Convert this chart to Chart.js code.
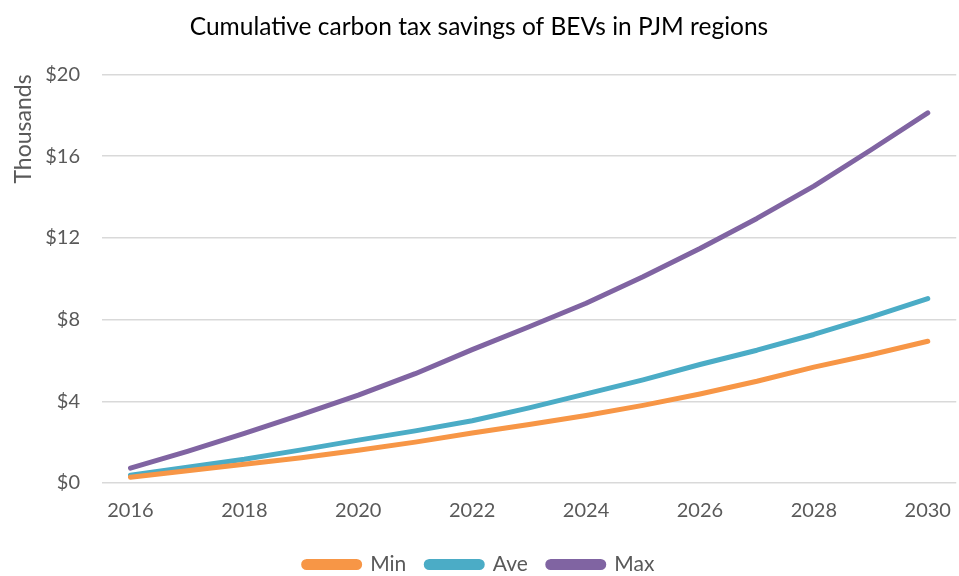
<!DOCTYPE html>
<html>
<head>
<meta charset="utf-8">
<script src="https://cdn.jsdelivr.net/npm/chart.js@4"></script>
<style>
  html, body { margin: 0; padding: 0; background: #fff; }
  #wrap { width: 959px; height: 576px; }
</style>
</head>
<body>
<div id="wrap"><canvas id="chart" width="959" height="576"></canvas></div>
<script>
// values in thousands of dollars
var years = ['2016', '2017', '2018', '2019', '2020', '2021', '2022', '2023',
             '2024', '2025', '2026', '2027', '2028', '2029', '2030'];
var minVals = [0.28, 0.60, 0.92, 1.24, 1.60, 2.00, 2.45, 2.86, 3.30, 3.80, 4.36, 4.98, 5.67, 6.28, 6.94];
var aveVals = [0.38, 0.77, 1.16, 1.62, 2.10, 2.55, 3.05, 3.68, 4.36, 5.05, 5.80, 6.50, 7.27, 8.12, 9.03];
var maxVals = [0.73, 1.55, 2.43, 3.35, 4.30, 5.35, 6.53, 7.65, 8.80, 10.10, 11.48, 12.95, 14.53, 16.30, 18.12];
var yTicks = [0, 4, 8, 12, 16, 20];

var grey = '#595959';
var font = "Lato, 'Open Sans', sans-serif";

function line(label, data, color) {
    return {
        label: label,
        data: data,
        borderColor: color,
        backgroundColor: color,
        borderWidth: 5,
        borderCapStyle: 'round',
        borderJoinStyle: 'round',
        pointRadius: 0,
        tension: 0
    };
}

new Chart(document.getElementById('chart'), {
    type: 'line',
    data: {
        labels: years,
        datasets: [
            line('Min', minVals, '#f79646'),
            line('Ave', aveVals, '#4bacc6'),
            line('Max', maxVals, '#8064a2')
        ]
    },
    options: {
        responsive: false,
        animation: false,
        layout: { padding: { left: 0, right: 1, top: 0, bottom: -9 } },
        plugins: {
            title: {
                display: true,
                text: 'Cumulative carbon tax savings of BEVs in PJM regions',
                color: '#000',
                font: { family: font, size: 24.5, weight: 'normal' },
                padding: { top: 12, bottom: 33 }
            },
            legend: {
                position: 'bottom',
                labels: {
                    color: grey,
                    font: { family: font, size: 21 },
                    boxWidth: 56,
                    boxHeight: 6,
                    useBorderRadius: true,
                    borderRadius: 3,
                    padding: 20
                }
            },
            tooltip: { enabled: false }
        },
        scales: {
            x: {
                offset: true,
                grid: { display: false },
                border: { display: false },
                ticks: {
                    color: grey,
                    font: { family: font, size: 20 },
                    autoSkip: false,
                    maxRotation: 0,
                    padding: 8,
                    callback: function (v, i) { return i % 2 === 0 ? years[i] : ''; }
                },
                afterFit: function (s) { s.height = 51; }
            },
            y: {
                min: 0,
                max: 20,
                afterBuildTicks: function (s) { s.ticks = yTicks.map(function (v) { return { value: v }; }); },
                grid: { color: '#d9d9d9', lineWidth: 1.5, drawTicks: false },
                border: { display: false },
                ticks: {
                    color: grey,
                    font: { family: font, size: 20 },
                    padding: 22,
                    callback: function (v) { return '$' + v; }
                },
                title: {
                    display: true,
                    text: 'Thousands',
                    align: 'end',
                    color: grey,
                    font: { family: font, size: 23 },
                    padding: { top: 10, bottom: 0 }
                },
                afterFit: function (s) { s.width = 102; }
            }
        }
    }
});
</script>
</body>
</html>
